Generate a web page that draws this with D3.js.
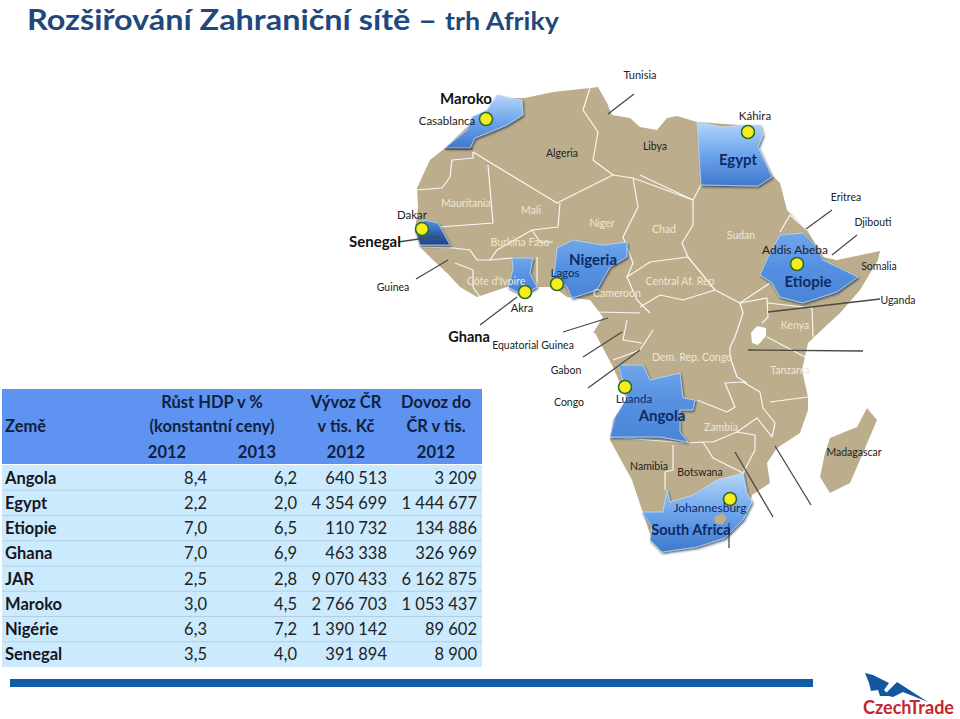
<!DOCTYPE html>
<html lang="cs">
<head>
<meta charset="utf-8" />
<title>Rozšiřování Zahraniční sítě – trh Afriky</title>
<script src="https://d3js.org/d3.v7.min.js"></script>
<style>
  html, body { margin: 0; padding: 0; background: #fff; }
  svg { display: block; font-family: Lato, "Open Sans", sans-serif; }
  .border { fill: none; stroke: #fff; stroke-width: 1.2; stroke-linejoin: round; opacity: 0.9; }
  .leader { stroke: #4a4a42; stroke-width: 1.3; }
  .cell { font-size: 16.5px; fill: #222; }
  .name { font-weight: 700; fill: #16161c; }
  .head { font-size: 16.5px; font-weight: 700; fill: #10213f; }
</style>
</head>
<body>
<svg id="chart" width="960" height="719"></svg>
<script>
// table
const countries = ["Angola", "Egypt", "Etiopie", "Ghana", "JAR", "Maroko", "Nigérie", "Senegal"];
const gdp2012 = ["8,4", "2,2", "7,0", "7,0", "2,5", "3,0", "6,3", "3,5"];
const gdp2013 = ["6,2", "2,0", "6,5", "6,9", "2,8", "4,5", "7,2", "4,0"];
const exports2012 = ["640 513", "4 354 699", "110 732", "463 338", "9 070 433", "2 766 703", "1 390 142", "391 894"];
const imports2012 = ["3 209", "1 444 677", "134 886", "326 969", "6 162 875", "1 053 437", "89 602", "8 900"];

// map outlines in page pixels
const africa = [[497,95],[510,98],[525,98],[553,92],[590,88],[598,87],[607,103],[612,115],[630,118],[640,127],[657,130],[667,118],[677,116],[697,122],[740,125],[760,125],[763,135],[758,147],[772,175],[780,183],[787,210],[807,230],[823,257],[837,260],[880,251],[878,260],[860,290],[840,313],[827,325],[808,343],[802,370],[808,397],[808,410],[800,433],[777,448],[767,463],[770,483],[752,495],[747,512],[727,537],[700,547],[662,552],[652,540],[643,513],[632,480],[610,440],[613,420],[627,400],[613,367],[595,333],[593,333],[603,317],[590,300],[567,297],[553,287],[537,287],[507,287],[477,297],[460,287],[447,273],[433,260],[420,247],[415,230],[418,207],[417,188],[430,160],[445,148],[467,127],[487,110]];
const madagascar = [[867,408],[877,420],[863,453],[850,483],[830,493],[820,477],[825,453],[830,438],[857,427]];
const borders = [
  [[473,152],[557,203],[613,175],[593,160],[598,132],[583,110],[590,88]],
  [[473,152],[473,158],[452,160],[450,177],[442,188],[417,190]],
  [[488,165],[493,223],[440,227]],
  [[560,203],[558,227],[532,230],[497,250],[490,260],[477,260],[470,250],[453,248],[420,247]],
  [[613,175],[633,178],[638,207],[623,237],[633,263],[627,277],[637,300],[650,313]],
  [[640,175],[693,200],[693,225],[682,243],[688,257],[715,290],[740,303],[767,298],[768,317],[762,323]],
  [[633,178],[693,200],[701,185]],
  [[640,307],[660,295],[683,300],[715,290]],
  [[627,277],[650,262],[688,257]],
  [[740,303],[743,313],[735,337],[730,347],[730,357],[737,377],[747,383]],
  [[812,308],[813,337]],
  [[767,337],[805,357]],
  [[768,303],[812,308]],
  [[688,443],[703,442],[713,458],[743,473],[755,450],[755,435],[737,432],[713,442],[703,442]],
  [[673,445],[673,470],[665,472],[665,490]],
  [[610,437],[688,443]],
  [[697,400],[727,412],[735,407],[725,383],[743,382],[760,392],[763,408],[775,423],[772,437],[757,418],[737,432]],
  [[770,402],[808,397]],
  [[597,312],[640,313]],
  [[627,320],[623,340],[642,343]],
  [[653,330],[640,350],[613,360]],
  [[455,263],[473,270],[473,287],[480,297]],
  [[490,260],[512,258]],
  [[532,230],[540,242],[553,242]],
  [[537,257],[537,287]],
  [[770,283],[752,295],[740,303]],
  [[807,230],[790,215],[780,232]],
  [[820,247],[837,260]]
];
const lightLand = [
  { id: "lgd", pts: [[522,100],[523,115],[507,125],[488,133],[475,138],[470,148],[445,148],[467,130],[472,117],[487,110],[497,95],[510,98]] },
  { id: "lgd", pts: [[697,122],[723,127],[743,125],[760,125],[763,135],[758,147],[772,177],[758,186],[701,185]] },
  { id: "lgd", pts: [[642,512],[663,512],[667,490],[670,502],[693,495],[717,480],[743,473],[747,493],[752,502],[743,520],[725,538],[697,547],[662,552],[650,540],[652,527]] },
  { id: "dgd", pts: [[415,230],[425,220],[438,223],[450,245],[433,245],[420,245]] },
  { id: "bgd", pts: [[512,258],[533,258],[530,273],[537,287],[523,295],[508,287],[513,270]] },
  { id: "bgd", pts: [[555,267],[557,248],[573,240],[603,245],[627,242],[627,257],[610,267],[597,290],[572,298],[567,287],[553,277]] },
  { id: "bgd", pts: [[760,275],[768,257],[780,235],[803,233],[817,247],[823,260],[858,277],[837,292],[803,303],[780,297],[772,283]] },
  { id: "bgd", pts: [[618,365],[643,365],[650,380],[680,373],[683,398],[695,400],[693,410],[680,410],[680,432],[688,442],[660,437],[610,437],[615,417],[627,398],[623,382]] }
];
const lesotho = [[714,517],[722,513],[727,518],[722,525],[715,523]];
const lakeVictoria = [[751,333],[757,326],[766,328],[766,336],[758,345],[752,343]];
const logoGlobe = [[865,673],[873,675],[883,680],[889,683],[884,690],[890,696],[880,696],[878,690],[871,691],[869,683]];
const logoPeak = [[884,695],[897,682],[928,702],[903,692],[893,697]];

const leaders = [
  [634,94,608,114],[832,210,806,229],[857,235,832,255],[880,299,768,312],[748,350,863,351],
  [416,279,448,260],[480,325,517,297],[398,242,440,236],[563,332,608,318],[583,357,622,332],
  [588,388,640,350],[735,452,773,517],[775,446,811,505],[729,523,729,548],[445,149,473,149]
];
const cities = [[486,119],[748,132],[797,264],[422,229],[557,284],[525,292],[625,387],[730,499]];

// text, x, y, size, colour, weight
const mapLabels = [
  ["Tunisia",640,79,11,"#222",400],["Maroko",466,104,15,"#111",700],["Casablanca",447,125,11.5,"#222",400],
  ["Algeria",562,157,10.5,"#222",400],["Libya",655,150,10.5,"#222",400],["Káhira",755,120,11.5,"#222",400],
  ["Egypt",738,165,15,"#0d2a66",700],["Eritrea",846,201,10.5,"#222",400],["Djibouti",873,226,10.5,"#222",400],
  ["Addis Abeba",795,254,12,"#222",400],["Etiopie",808,287,15,"#0d2a66",700],["Somalia",879,270,10.5,"#222",400],
  ["Uganda",898,304,10.5,"#222",400],["Mauritania",466,207,10.5,"#eee6d5",400],["Mali",531,214,10.5,"#eee6d5",400],
  ["Niger",602,227,10.5,"#eee6d5",400],["Chad",664,233,10.5,"#eee6d5",400],["Sudan",741,239,10.5,"#eee6d5",400],
  ["Burkina Faso",520,246,10.5,"#eee6d5",400],["Senegal",375,247,15,"#111",700],["Dakar",412,219,11.5,"#222",400],
  ["Nigeria",593,265,15,"#0d2a66",700],["Lagos",565,277,11.5,"#0d2a66",400],["Cameroon",617,297,10.5,"#eee6d5",400],
  ["Central Af. Rep",680,285,10.5,"#eee6d5",400],["Côte d'Ivoire",496,285,10.5,"#eee6d5",400],["Guinea",393,291,10.5,"#222",400],
  ["Akra",522,312,11,"#222",400],["Ghana",469,342,14.5,"#111",700],["Equatorial Guinea",533,349,10.5,"#222",400],
  ["Kenya",795,329,10.5,"#eee6d5",400],["Dem. Rep. Congo",692,361,10.5,"#eee6d5",400],["Tanzania",790,374,10.5,"#eee6d5",400],
  ["Gabon",566,374,10.5,"#222",400],["Congo",569,406,10.5,"#222",400],["Luanda",634,403,11.5,"#0d2a66",400],
  ["Angola",662,421,15,"#0d2a66",700],["Zambia",721,431,10.5,"#eee6d5",400],["Madagascar",854,456,10.5,"#222",400],
  ["Namibia",649,470,10.5,"#222",400],["Botswana",700,476,10.5,"#222",400],["Johannesburg",710,512,12,"#0d2a66",400],
  ["South Africa",691,535,14.5,"#0d2a66",700]
];

const headLines = [
  ["Země",5,432,"start"],["Růst HDP v %",212,408,"middle"],["(konstantní ceny)",212,432,"middle"],
  ["2012",167,458,"middle"],["2013",257,458,"middle"],["Vývoz ČR",346,408,"middle"],["v tis. Kč",346,432,"middle"],
  ["2012",346,458,"middle"],["Dovoz do",436,408,"middle"],["ČR v tis.",436,432,"middle"],["2012",436,458,"middle"]
];

const svg = d3.select("#chart");
const defs = svg.append("defs");

function gradient(id, top, mid, bottom) {
  const g = defs.append("linearGradient").attr("id", id).attr("x1", 0).attr("x2", 0).attr("y1", 0).attr("y2", 1);
  g.append("stop").attr("offset", "0%").attr("stop-color", top);
  g.append("stop").attr("offset", "50%").attr("stop-color", mid);
  g.append("stop").attr("offset", "100%").attr("stop-color", bottom);
}
gradient("lgd", "#b5d6f8", "#6da5ec", "#3f78cc");
gradient("bgd", "#6fa6ec", "#5590e0", "#4a84d6");
gradient("dgd", "#5e97e2", "#2f63b5", "#1d4588");

const shadow = defs.append("filter").attr("id", "bevel").attr("x", "-10%").attr("y", "-10%").attr("width", "125%").attr("height", "125%");
shadow.append("feDropShadow").attr("dx", 1).attr("dy", 1.5).attr("stdDeviation", 0.8).attr("flood-color", "#1c2f55").attr("flood-opacity", 0.8);

const toXY = d3.scaleIdentity();
const line = d3.line().x(d => toXY(d[0])).y(d => toXY(d[1]));
const closed = d3.line().x(d => toXY(d[0])).y(d => toXY(d[1])).curve(d3.curveLinearClosed);

// title
svg.append("text").attr("x", 27).attr("y", 30).attr("fill", "#1f497d").attr("font-weight", 700)
  .attr("font-size", 29).attr("textLength", 410).attr("lengthAdjust", "spacingAndGlyphs")
  .text("Rozšiřování Zahraniční sítě –");
svg.append("text").attr("x", 445).attr("y", 30).attr("fill", "#1f497d").attr("font-weight", 700)
  .attr("font-size", 24).attr("textLength", 114).attr("lengthAdjust", "spacingAndGlyphs")
  .text("trh Afriky");

// map
const map = svg.append("g");
map.append("path").attr("d", closed(africa)).attr("fill", "#bcae8c");
map.append("path").attr("d", closed(madagascar)).attr("fill", "#bcae8c");
map.append("path").attr("d", closed(lakeVictoria)).attr("fill", "#fff");
map.selectAll("path.border").data(borders).join("path").attr("class", "border").attr("d", line);
map.selectAll("path.country").data(lightLand).join("path").attr("class", "country")
  .attr("d", d => closed(d.pts)).attr("fill", d => `url(#${d.id})`)
  .attr("stroke", "#cfe2f8").attr("stroke-width", 0.7).attr("filter", "url(#bevel)");
map.append("path").attr("d", closed(lesotho)).attr("fill", "#bcae8c");

map.selectAll("line.leader").data(leaders).join("line").attr("class", "leader")
  .attr("x1", d => d[0]).attr("y1", d => d[1]).attr("x2", d => d[2]).attr("y2", d => d[3]);

map.selectAll("circle.city").data(cities).join("circle").attr("class", "city")
  .attr("cx", d => d[0]).attr("cy", d => d[1]).attr("r", 6.5)
  .attr("fill", "#f4ee1c").attr("stroke", "#2f6b2f").attr("stroke-width", 1.6);

map.selectAll("text.lbl").data(mapLabels).join("text").attr("class", "lbl")
  .attr("text-anchor", "middle").attr("x", d => d[1]).attr("y", d => d[2])
  .attr("font-size", d => d[3]).attr("fill", d => d[4]).attr("font-weight", d => d[5])
  .text(d => d[0]);

// table
const rowY = d3.scaleBand().domain(countries).range([465, 667]);
const tableX = 2, tableW = 480;
const table = svg.append("g");
table.append("rect").attr("x", tableX).attr("y", 389).attr("width", tableW).attr("height", 75).attr("fill", "#5f93f2");
table.selectAll("rect.row").data(countries).join("rect").attr("class", "row")
  .attr("x", tableX).attr("y", d => rowY(d)).attr("width", tableW).attr("height", rowY.bandwidth()).attr("fill", "#cbeafe");
table.selectAll("line.sep").data(countries.slice(1)).join("line").attr("class", "sep")
  .attr("x1", tableX).attr("x2", tableX + tableW).attr("y1", d => rowY(d)).attr("y2", d => rowY(d))
  .attr("stroke", "#b4cddf").attr("stroke-width", 1.2);
table.selectAll("text.head").data(headLines).join("text").attr("class", "head")
  .attr("x", d => d[1]).attr("y", d => d[2]).attr("text-anchor", d => d[3]).text(d => d[0]);

const columns = [
  { values: gdp2012, x: 207 },
  { values: gdp2013, x: 297 },
  { values: exports2012, x: 387 },
  { values: imports2012, x: 477 }
];
const textY = c => rowY(c) + rowY.bandwidth() / 2 + 6;
table.selectAll("text.name").data(countries).join("text").attr("class", "cell name")
  .attr("x", 5).attr("y", textY).text(d => d);
columns.forEach((col, i) => {
  table.selectAll("text.col" + i).data(col.values).join("text").attr("class", "cell col" + i)
    .attr("x", col.x).attr("y", (d, j) => textY(countries[j])).attr("text-anchor", "end").text(d => d);
});

// footer bar and logo
svg.append("rect").attr("x", 10).attr("y", 679).attr("width", 803).attr("height", 8).attr("fill", "#0f5ca8");
svg.append("path").attr("d", closed(logoGlobe)).attr("fill", "#12579f");
svg.append("path").attr("d", closed(logoPeak)).attr("fill", "#12579f");
svg.append("text").attr("x", 863).attr("y", 714).attr("fill", "#c4262e").attr("font-weight", 700)
  .attr("font-size", 19.5).attr("textLength", 91).attr("lengthAdjust", "spacingAndGlyphs").text("CzechTrade");
</script>
</body>
</html>
